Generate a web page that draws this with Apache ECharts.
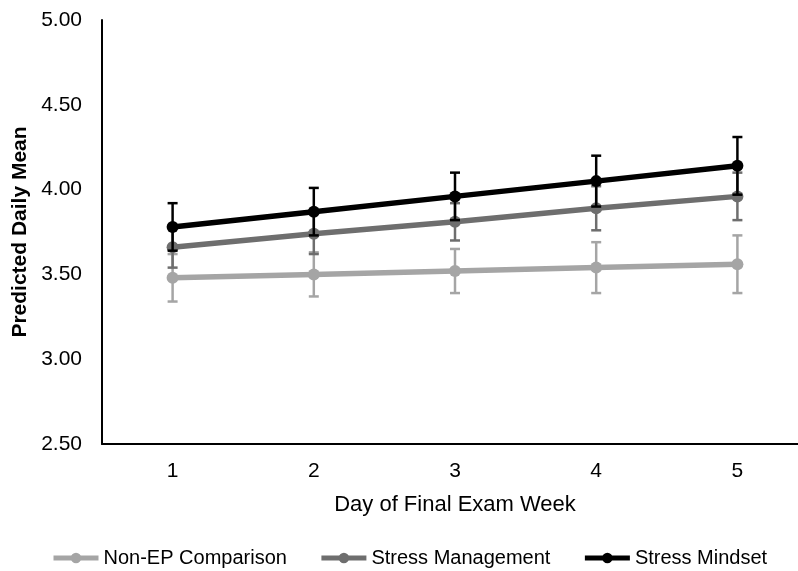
<!DOCTYPE html>
<html><head><meta charset="utf-8">
<script src="https://cdn.jsdelivr.net/npm/echarts@6/dist/echarts.min.js"></script>
<style>html,body{margin:0;padding:0;background:#fff}#c{width:798px;height:571px}</style>
</head><body><div id="c"></div>
<script>
var days = ['1','2','3','4','5'];
var yTicks = [2.5, 3.0, 3.5, 4.0, 4.5, 5.0];
var seriesNames = ['Non-EP Comparison','Stress Management','Stress Mindset'];
var nonEP = [3.48, 3.50, 3.52, 3.54, 3.56];
var nonEPErr = [0.14, 0.13, 0.13, 0.15, 0.17];
var stressMgmt = [3.66, 3.74, 3.81, 3.89, 3.96];
var stressMgmtErr = [0.12, 0.12, 0.11, 0.13, 0.14];
var stressMindset = [3.78, 3.87, 3.96, 4.05, 4.14];
var stressMindsetErr = [0.14, 0.14, 0.14, 0.15, 0.17];
var colors = ['#a5a5a5','#6e6e6e','#000000'];

var font = 'Liberation Sans, Arial, sans-serif';
function errData(vals, errs){ return vals.map(function(v,i){ return [i, v-errs[i], v+errs[i]]; }); }
function errSeries(vals, errs, color, z){
  return {
    type:'custom', z:z, silent:true,
    data: errData(vals, errs),
    encode:{x:0, y:[1,2]},
    renderItem:function(params, api){
      var x = api.value(0);
      var lo = api.coord([x, api.value(1)]);
      var hi = api.coord([x, api.value(2)]);
      var w = 5;
      var st = {stroke:color, lineWidth:2.5};
      return {type:'group', children:[
        {type:'line', shape:{x1:lo[0],y1:lo[1],x2:hi[0],y2:hi[1]}, style:st},
        {type:'line', shape:{x1:lo[0]-w,y1:lo[1],x2:lo[0]+w,y2:lo[1]}, style:st},
        {type:'line', shape:{x1:hi[0]-w,y1:hi[1],x2:hi[0]+w,y2:hi[1]}, style:st}
      ]};
    }
  };
}
function lineSeries(name, vals, color, z){
  return {name:name, type:'line', z:z, data:vals, symbol:'circle', symbolSize:12,
    lineStyle:{color:color, width:5.5}, itemStyle:{color:color}};
}
var chart = echarts.init(document.getElementById('c'));
chart.setOption({
  animation:false,
  color: colors,
  grid:{left:102, right:-10, top:20, bottom:127, outerBoundsMode:'none', containLabel:false},
  legend:{left:46, top:543, itemGap:32, itemWidth:45, itemHeight:13,
    lineStyle:{width:5},
    textStyle:{fontFamily:font, fontSize:20, color:'#000'},
    data: seriesNames},
  xAxis:{type:'category', data:days, boundaryGap:true,
    name:'Day of Final Exam Week', nameLocation:'middle', nameGap:50,
    nameTextStyle:{fontFamily:font, fontSize:22, color:'#000'},
    axisLine:{lineStyle:{color:'#000', width:2}}, axisTick:{show:false},
    axisLabel:{fontFamily:font, fontSize:21, color:'#000', margin:17}},
  yAxis:{type:'value', min:yTicks[0], max:yTicks[yTicks.length-1], interval:0.5,
    name:'Predicted Daily Mean', nameLocation:'middle', nameGap:70,
    nameTextStyle:{fontFamily:font, fontSize:21, fontWeight:'bold', color:'#000'},
    axisLine:{show:true, lineStyle:{color:'#000', width:2}}, axisTick:{show:false},
    splitLine:{show:false},
    axisLabel:{fontFamily:font, fontSize:21, color:'#000', margin:20,
      formatter:function(v){return v.toFixed(2);}}},
  series:[
    errSeries(nonEP, nonEPErr, colors[0], 1),
    lineSeries(seriesNames[0], nonEP, colors[0], 2),
    errSeries(stressMgmt, stressMgmtErr, colors[1], 3),
    lineSeries(seriesNames[1], stressMgmt, colors[1], 4),
    errSeries(stressMindset, stressMindsetErr, colors[2], 5),
    lineSeries(seriesNames[2], stressMindset, colors[2], 6)
  ]
});
</script></body></html>
